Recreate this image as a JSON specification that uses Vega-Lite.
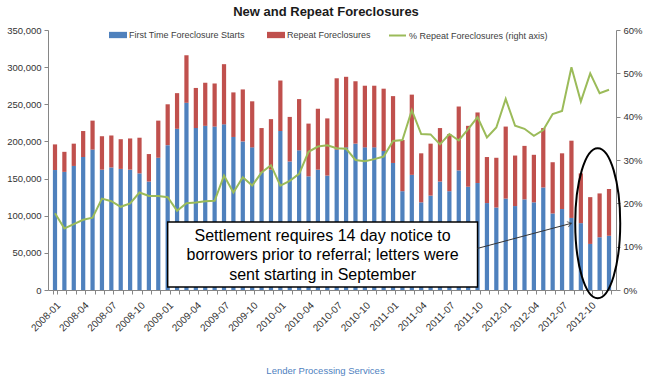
{
  "$schema": "https://vega.github.io/schema/vega-lite/v6.json",
  "width": 568,
  "height": 260,
  "autosize": {"type": "none"},
  "padding": {"left": 48, "top": 30, "right": 34, "bottom": 97},
  "config": {"view": {"stroke": null}, "font": "Liberation Sans"},
  "title": {"text": "New and Repeat Foreclosures", "fontSize": 13, "fontWeight": "bold", "color": "#1a1a1a", "anchor": "middle", "frame": "group", "offset": 6, "dx": -6},
  "data": {"values": [
    {"month": "2008-01", "first": 161500, "repeat": 34500, "pct": 0.177},
    {"month": "2008-02", "first": 159000, "repeat": 27000, "pct": 0.142},
    {"month": "2008-03", "first": 167000, "repeat": 30000, "pct": 0.152},
    {"month": "2008-04", "first": 179000, "repeat": 35000, "pct": 0.162},
    {"month": "2008-05", "first": 189000, "repeat": 39000, "pct": 0.167},
    {"month": "2008-06", "first": 162000, "repeat": 45000, "pct": 0.211},
    {"month": "2008-07", "first": 165000, "repeat": 43000, "pct": 0.205},
    {"month": "2008-08", "first": 163000, "repeat": 40000, "pct": 0.192},
    {"month": "2008-09", "first": 162000, "repeat": 42000, "pct": 0.200},
    {"month": "2008-10", "first": 157000, "repeat": 48000, "pct": 0.225},
    {"month": "2008-11", "first": 146000, "repeat": 37000, "pct": 0.217},
    {"month": "2008-12", "first": 178000, "repeat": 50000, "pct": 0.217},
    {"month": "2009-01", "first": 195000, "repeat": 55000, "pct": 0.214},
    {"month": "2009-02", "first": 217000, "repeat": 48000, "pct": 0.183},
    {"month": "2009-03", "first": 252000, "repeat": 64000, "pct": 0.200},
    {"month": "2009-04", "first": 218000, "repeat": 54000, "pct": 0.202},
    {"month": "2009-05", "first": 221000, "repeat": 58000, "pct": 0.205},
    {"month": "2009-06", "first": 220000, "repeat": 58000, "pct": 0.206},
    {"month": "2009-07", "first": 223000, "repeat": 81000, "pct": 0.264},
    {"month": "2009-08", "first": 206000, "repeat": 60000, "pct": 0.225},
    {"month": "2009-09", "first": 200000, "repeat": 70000, "pct": 0.260},
    {"month": "2009-10", "first": 192000, "repeat": 62000, "pct": 0.241},
    {"month": "2009-11", "first": 158000, "repeat": 60000, "pct": 0.271},
    {"month": "2009-12", "first": 162000, "repeat": 68000, "pct": 0.288},
    {"month": "2010-01", "first": 214000, "repeat": 68000, "pct": 0.241},
    {"month": "2010-02", "first": 173000, "repeat": 60000, "pct": 0.252},
    {"month": "2010-03", "first": 188000, "repeat": 69000, "pct": 0.268},
    {"month": "2010-04", "first": 153000, "repeat": 71000, "pct": 0.319},
    {"month": "2010-05", "first": 162000, "repeat": 82000, "pct": 0.331},
    {"month": "2010-06", "first": 154000, "repeat": 77000, "pct": 0.334},
    {"month": "2010-07", "first": 189000, "repeat": 96000, "pct": 0.327},
    {"month": "2010-08", "first": 192000, "repeat": 95000, "pct": 0.326},
    {"month": "2010-09", "first": 197000, "repeat": 84000, "pct": 0.300},
    {"month": "2010-10", "first": 192000, "repeat": 83000, "pct": 0.297},
    {"month": "2010-11", "first": 192000, "repeat": 83000, "pct": 0.302},
    {"month": "2010-12", "first": 187000, "repeat": 84000, "pct": 0.308},
    {"month": "2011-01", "first": 171000, "repeat": 90000, "pct": 0.344},
    {"month": "2011-02", "first": 133000, "repeat": 69000, "pct": 0.346},
    {"month": "2011-03", "first": 155000, "repeat": 108000, "pct": 0.415},
    {"month": "2011-04", "first": 118000, "repeat": 66000, "pct": 0.360},
    {"month": "2011-05", "first": 127000, "repeat": 70000, "pct": 0.359},
    {"month": "2011-06", "first": 146000, "repeat": 72000, "pct": 0.336},
    {"month": "2011-07", "first": 133000, "repeat": 77000, "pct": 0.360},
    {"month": "2011-08", "first": 161000, "repeat": 86000, "pct": 0.345},
    {"month": "2011-09", "first": 139000, "repeat": 82000, "pct": 0.371},
    {"month": "2011-10", "first": 144000, "repeat": 95000, "pct": 0.399},
    {"month": "2011-11", "first": 117000, "repeat": 62000, "pct": 0.352},
    {"month": "2011-12", "first": 111000, "repeat": 67000, "pct": 0.375},
    {"month": "2012-01", "first": 123000, "repeat": 97000, "pct": 0.441},
    {"month": "2012-02", "first": 113000, "repeat": 68000, "pct": 0.379},
    {"month": "2012-03", "first": 122000, "repeat": 72000, "pct": 0.372},
    {"month": "2012-04", "first": 118000, "repeat": 64000, "pct": 0.356},
    {"month": "2012-05", "first": 138000, "repeat": 80000, "pct": 0.369},
    {"month": "2012-06", "first": 103000, "repeat": 69000, "pct": 0.406},
    {"month": "2012-07", "first": 109000, "repeat": 75000, "pct": 0.413},
    {"month": "2012-08", "first": 97000, "repeat": 104000, "pct": 0.514},
    {"month": "2012-09", "first": 90000, "repeat": 67000, "pct": 0.435},
    {"month": "2012-10", "first": 62000, "repeat": 63000, "pct": 0.500},
    {"month": "2012-11", "first": 71000, "repeat": 59000, "pct": 0.454},
    {"month": "2012-12", "first": 73000, "repeat": 63000, "pct": 0.462}
  ]},
  "encoding": {
    "x": {
      "field": "month", "type": "ordinal",
      "scale": {"paddingInner": 0.55, "paddingOuter": 0.52},
      "axis": {
        "title": "Lender Processing Services",
        "titleColor": "#4F7FC0", "titleFontSize": 9.5, "titleFontWeight": "normal",
        "titleX": 277, "titleY": 80, "titleBaseline": "middle", "titleAlign": "center",
        "labelAngle": -45, "labelAlign": "right", "labelBaseline": "top", "labelPadding": 6,
        "labelFontSize": 10, "labelColor": "#333333", "labelOverlap": false,
        "labelExpr": "indexof(['01','04','07','10'], substring(datum.value, 5, 7)) >= 0 ? datum.value : ''",
        "tickBand": "extent", "tickSize": 4, "tickColor": "#868686", "domainColor": "#868686"
      }
    }
  },
  "layer": [
    {
      "layer": [
        {
          "transform": [{"fold": ["first", "repeat"], "as": ["key", "value"]}],
          "mark": {"type": "bar"},
          "encoding": {
            "y": {
              "field": "value", "type": "quantitative", "stack": "zero",
              "scale": {"domain": [0, 350000], "nice": false},
              "axis": {"title": null, "values": [0, 50000, 100000, 150000, 200000, 250000, 300000, 350000], "labelExpr": "format(datum.value, ',')", "grid": false, "labelFontSize": 9.5, "labelColor": "#333333", "tickSize": 4, "tickColor": "#868686", "domainColor": "#868686", "labelPadding": 3}
            },
            "color": {
              "field": "key", "type": "nominal",
              "scale": {"domain": ["first", "repeat"], "range": ["#4F81BD", "#C0504D"]},
              "legend": {
                "title": null, "orient": "none", "direction": "horizontal", "legendX": 61, "legendY": -4,
                "padding": 0, "columnPadding": 22, "labelFontSize": 9, "labelColor": "#404040", "labelOffset": 2,
                "symbolType": "M-1,-0.35H1V0.35H-1Z", "symbolSize": 324, "symbolStrokeWidth": 0,
                "labelExpr": "datum.label == 'first' ? 'First Time Foreclosure Starts' : 'Repeat Foreclosures'"
              }
            },
            "order": {"field": "key", "sort": "ascending"}
          }
        },
        {
          "data": {"values": [{}]},
          "mark": {"type": "rect", "fill": "white", "stroke": "black", "strokeWidth": 1.5},
          "encoding": {
            "x": {"datum": "2009-01", "bandPosition": 0.5},
            "x2": {"datum": "2011-10", "bandPosition": 0.5},
            "y": {"datum": 91500, "type": "quantitative", "axis": {"title": null, "values": [0, 50000, 100000, 150000, 200000, 250000, 300000, 350000], "labelExpr": "format(datum.value, ',')", "grid": false, "labelFontSize": 9.5, "labelColor": "#333333", "tickSize": 4, "tickColor": "#868686", "domainColor": "#868686", "labelPadding": 3}},
            "y2": {"datum": 4000}
          }
        },
        {
          "data": {"values": [{}]},
          "mark": {"type": "text", "fontSize": 16, "font": "Liberation Sans", "color": "black", "align": "center", "baseline": "middle", "lineHeight": 19.7,
            "text": ["Settlement requires 14 day notice to", "borrowers prior to referral; letters were", "sent starting in September"]},
          "encoding": {
            "x": {"datum": "2010-05", "bandPosition": 1.6},
            "y": {"datum": 73000, "type": "quantitative", "axis": {"title": null, "values": [0, 50000, 100000, 150000, 200000, 250000, 300000, 350000], "labelExpr": "format(datum.value, ',')", "grid": false, "labelFontSize": 9.5, "labelColor": "#333333", "tickSize": 4, "tickColor": "#868686", "domainColor": "#868686", "labelPadding": 3}}
          }
        },
        {
          "data": {"values": [{}]},
          "mark": {"type": "rule", "color": "#333333", "strokeWidth": 1},
          "encoding": {
            "x": {"datum": "2011-10"},
            "y": {"datum": 56000, "type": "quantitative", "axis": {"title": null, "values": [0, 50000, 100000, 150000, 200000, 250000, 300000, 350000], "labelExpr": "format(datum.value, ',')", "grid": false, "labelFontSize": 9.5, "labelColor": "#333333", "tickSize": 4, "tickColor": "#868686", "domainColor": "#868686", "labelPadding": 3}},
            "x2": {"datum": "2012-08"},
            "y2": {"datum": 89800}
          }
        },
        {
          "data": {"values": [{}]},
          "mark": {"type": "point", "shape": "M-1,-0.7L0,0L-1,0.7", "size": 64, "angle": -15, "filled": false, "stroke": "#333333", "strokeWidth": 1},
          "encoding": {
            "x": {"datum": "2012-08"},
            "y": {"datum": 89800, "type": "quantitative", "axis": {"title": null, "values": [0, 50000, 100000, 150000, 200000, 250000, 300000, 350000], "labelExpr": "format(datum.value, ',')", "grid": false, "labelFontSize": 9.5, "labelColor": "#333333", "tickSize": 4, "tickColor": "#868686", "domainColor": "#868686", "labelPadding": 3}}
          }
        },
        {
          "data": {"values": [{}]},
          "mark": {"type": "point", "shape": "M0.1,-1C0.2657,-1 0.4,-0.5523 0.4,0C0.4,0.5523 0.2657,1 0.1,1C-0.0657,1 -0.2,0.5523 -0.2,0C-0.2,-0.5523 -0.0657,-1 0.1,-1Z", "size": 22500, "filled": false, "stroke": "black", "strokeWidth": 2, "opacity": 1},
          "encoding": {
            "x": {"datum": "2012-10"},
            "y": {"datum": 90000, "type": "quantitative", "axis": {"title": null, "values": [0, 50000, 100000, 150000, 200000, 250000, 300000, 350000], "labelExpr": "format(datum.value, ',')", "grid": false, "labelFontSize": 9.5, "labelColor": "#333333", "tickSize": 4, "tickColor": "#868686", "domainColor": "#868686", "labelPadding": 3}}
          }
        }
      ]
    },
    {
      "mark": {"type": "line", "strokeWidth": 2},
      "encoding": {
        "y": {
          "field": "pct", "type": "quantitative",
          "scale": {"domain": [0, 0.6], "nice": false},
          "axis": {"orient": "right", "title": null, "values": [0, 0.1, 0.2, 0.3, 0.4, 0.5, 0.6], "format": ".0%", "grid": false, "labelFontSize": 9.5, "labelColor": "#333333", "tickSize": 4, "tickColor": "#868686", "domainColor": "#868686", "labelPadding": 3}
        },
        "stroke": {
          "datum": "% Repeat Foreclosures (right axis)",
          "scale": {"range": ["#9BBB59"]},
          "legend": {"title": null, "orient": "none", "legendX": 340, "legendY": -4, "padding": 0, "labelFontSize": 9, "labelColor": "#404040", "labelOffset": 2, "symbolType": "stroke", "symbolSize": 289, "symbolStrokeWidth": 2}
        }
      }
    }
  ],
  "resolve": {"scale": {"y": "independent"}}
}
